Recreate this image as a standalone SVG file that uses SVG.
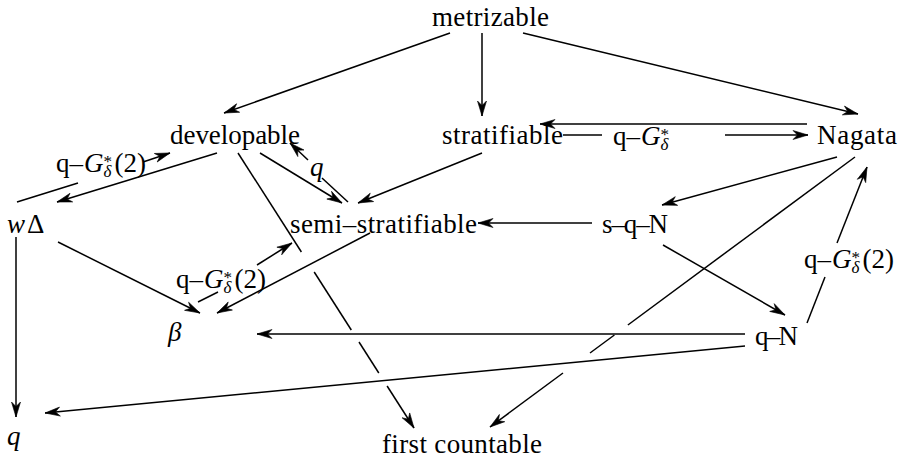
<svg xmlns="http://www.w3.org/2000/svg" width="902" height="461" viewBox="0 0 902 461" font-family="'Liberation Serif', 'DejaVu Serif', serif">
<defs>
<style>
text{font-family:'Liberation Serif','DejaVu Serif',serif;font-size:27px;fill:#000}
.it{font-style:italic}
.sm{font-size:17px}
.e line{stroke:#000;stroke-width:1.5;fill:none}
.arr{marker-end:url(#ah)}
</style>
<marker id="ah" viewBox="-16 -6 17 12" refX="0" refY="0" markerWidth="17" markerHeight="12" markerUnits="userSpaceOnUse" orient="auto">
<path d="M0,0 L-15,-4.5 L-10.5,0 L-15,4.5 Z" fill="#000" stroke="#000" stroke-width="0.6"/>
</marker>
</defs>
<rect width="902" height="461" fill="#fff"/>

<g id="metrizable"><text x="432" y="26" textLength="117" lengthAdjust="spacing">metrizable</text></g>
<g id="developable"><text x="170" y="144" textLength="130" lengthAdjust="spacing">developable</text></g>
<g id="stratifiable"><text x="442" y="144" textLength="121" lengthAdjust="spacing">stratifiable</text></g>
<g id="nagata"><text x="817" y="144" textLength="80" lengthAdjust="spacing">Nagata</text></g>
<g id="wdelta"><text x="7" y="233"><tspan class="it">w</tspan><tspan dx="2">Δ</tspan></text></g>
<g id="semi-stratifiable"><text x="290" y="233" textLength="187" lengthAdjust="spacing">semi–stratifiable</text></g>
<g id="s-q-N"><text x="602" y="233" textLength="66" lengthAdjust="spacing">s–q–N</text></g>
<g id="beta"><text class="it" x="168" y="341">β</text></g>
<g id="q-N"><text x="755" y="345" textLength="43" lengthAdjust="spacing">q–N</text></g>
<g id="q"><text class="it" x="7" y="445">q</text></g>
<g id="first-countable"><text x="382" y="453" textLength="160" lengthAdjust="spacing">first countable</text></g>

<g id="connectors" class="e">
<line class="arr" x1="450" y1="33" x2="224" y2="113"/>
<line class="arr" x1="482" y1="33" x2="482" y2="116"/>
<line class="arr" x1="523" y1="33" x2="858" y2="114"/>
<line class="arr" x1="807" y1="124" x2="540" y2="124"/>
<line x1="563" y1="135" x2="602" y2="135"/>
<line class="arr" x1="725" y1="135" x2="808" y2="135"/>
<line class="arr" x1="217" y1="153" x2="57" y2="202"/>
<line x1="17" y1="202" x2="78" y2="183"/>
<line class="arr" x1="143" y1="162" x2="170" y2="153"/>
<line class="arr" x1="260" y1="153" x2="342" y2="203"/>
<line x1="348" y1="202" x2="322" y2="178"/>
<line class="arr" x1="308" y1="160" x2="290" y2="143"/>
<line x1="238" y1="153" x2="301.4" y2="252"/>
<line x1="314.2" y1="272" x2="351.3" y2="330"/>
<line x1="359" y1="342" x2="378.8" y2="373"/>
<line class="arr" x1="387.1" y1="386" x2="414" y2="428"/>
<line class="arr" x1="482" y1="153" x2="358" y2="203"/>
<line class="arr" x1="592" y1="223" x2="478" y2="223"/>
<line class="arr" x1="837" y1="157" x2="662" y2="205"/>
<line x1="855" y1="157" x2="627.9" y2="325"/>
<line x1="614.4" y1="335" x2="590" y2="353"/>
<line class="arr" x1="563" y1="373" x2="490" y2="427"/>
<line class="arr" x1="663" y1="245" x2="785" y2="315"/>
<line x1="807" y1="323" x2="825" y2="277"/>
<line class="arr" x1="837" y1="243" x2="867" y2="167"/>
<line class="arr" x1="16" y1="237" x2="16" y2="417"/>
<line class="arr" x1="58" y1="242" x2="200" y2="313"/>
<line class="arr" x1="370" y1="233" x2="217" y2="313"/>
<line x1="198" y1="302" x2="218" y2="292"/>
<line class="arr" x1="257" y1="265" x2="292" y2="243"/>
<line class="arr" x1="745" y1="334" x2="257" y2="334"/>
<line class="arr" x1="745" y1="346" x2="45" y2="413"/>
</g>

<g id="edge-labels">
<text x="56" y="172">q–<tspan class="it" dx="1">G</tspan><tspan class="sm" dy="-5">*</tspan><tspan class="it sm" dx="-8.5" dy="10">δ</tspan><tspan dx="3" dy="-5">(2)</tspan></text>
<text class="it" x="310" y="176">q</text>
<text x="613" y="145">q–<tspan class="it" dx="1">G</tspan><tspan class="sm" dy="-5">*</tspan><tspan class="it sm" dx="-8.5" dy="10">δ</tspan></text>
<text x="176" y="288">q–<tspan class="it" dx="1">G</tspan><tspan class="sm" dy="-5">*</tspan><tspan class="it sm" dx="-8.5" dy="10">δ</tspan><tspan dx="3" dy="-5">(2)</tspan></text>
<text x="804" y="268">q–<tspan class="it" dx="1">G</tspan><tspan class="sm" dy="-5">*</tspan><tspan class="it sm" dx="-8.5" dy="10">δ</tspan><tspan dx="3" dy="-5">(2)</tspan></text>
</g>
</svg>
